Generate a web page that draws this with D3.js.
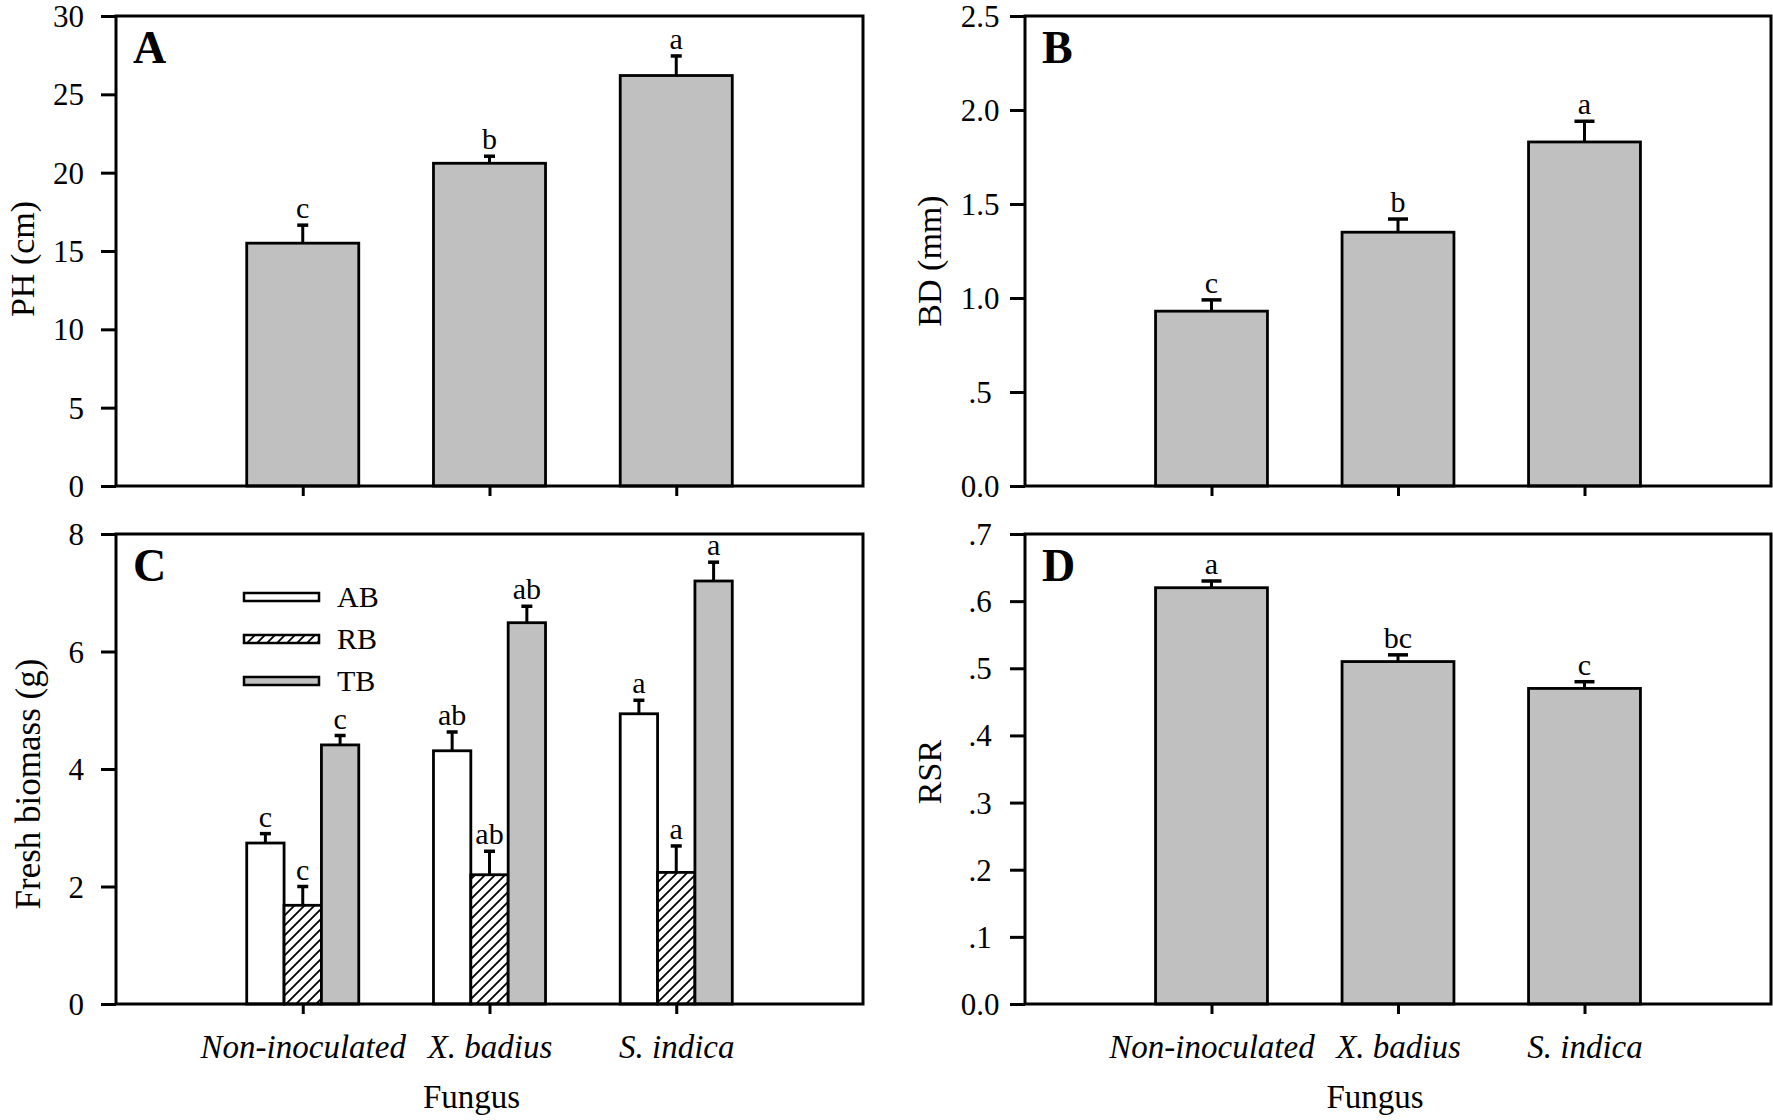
<!DOCTYPE html>
<html>
<head>
<meta charset="utf-8">
<script src="https://cdn.jsdelivr.net/npm/d3@7"></script>
<style>
  html, body { margin: 0; padding: 0; background: #fff; }
  svg { display: block; font-family: "Liberation Serif", "Times New Roman", serif; }
</style>
</head>
<body>
<svg id="chart" width="1773" height="1120"></svg>
<script>
// ---------- data ----------
const fungi = ["Non-inoculated", "X. badius", "S. indica"];

const phValues = [15.5, 20.6, 26.2];
const phErrors = [1.15, 0.45, 1.25];
const phLetters = ["c", "b", "a"];
const phTicks = [0, 5, 10, 15, 20, 25, 30];
const phTickLabels = ["0", "5", "10", "15", "20", "25", "30"];

const bdValues = [0.93, 1.35, 1.83];
const bdErrors = [0.06, 0.07, 0.11];
const bdLetters = ["c", "b", "a"];
const bdTicks = [0, 0.5, 1.0, 1.5, 2.0, 2.5];
const bdTickLabels = ["0.0", ".5", "1.0", "1.5", "2.0", "2.5"];

const biomassSeries = ["AB", "RB", "TB"];
const abValues = [2.74, 4.31, 4.94];
const abErrors = [0.16, 0.32, 0.23];
const abLetters = ["c", "ab", "a"];
const rbValues = [1.68, 2.20, 2.24];
const rbErrors = [0.32, 0.40, 0.45];
const rbLetters = ["c", "ab", "a"];
const tbValues = [4.41, 6.49, 7.20];
const tbErrors = [0.16, 0.28, 0.32];
const tbLetters = ["c", "ab", "a"];
const bmTicks = [0, 2, 4, 6, 8];
const bmTickLabels = ["0", "2", "4", "6", "8"];

const rsrValues = [0.62, 0.51, 0.47];
const rsrErrors = [0.01, 0.01, 0.01];
const rsrLetters = ["a", "bc", "c"];
const rsrTicks = [0, 0.1, 0.2, 0.3, 0.4, 0.5, 0.6, 0.7];
const rsrTickLabels = ["0.0", ".1", ".2", ".3", ".4", ".5", ".6", ".7"];

// ---------- drawing ----------
const svg = d3.select("#chart");
const GRAY = "#c0c0c0";

const defs = svg.append("defs");
const pat = defs.append("pattern")
  .attr("id", "hatch").attr("patternUnits", "userSpaceOnUse")
  .attr("width", 10).attr("height", 10);
pat.append("rect").attr("width", 10).attr("height", 10).attr("fill", "#fff");
pat.append("path")
  .attr("d", "M-2.5,2.5 l5,-5 M0,10 l10,-10 M7.5,12.5 l5,-5")
  .attr("stroke", "#000").attr("stroke-width", 1.8);

function panel(cfg) {
  const {x0, x1, y0, y1, max, ticks, tickLabels, centeredTicks, letter,
         yLabel, yLabelCenter, yLabelSize, yLabelBaseline, showX, fungusShift} = cfg;
  const g = svg.append("g");
  const y = d3.scaleLinear().domain([0, max]).range([y1, y0]);
  const x = d3.scalePoint().domain(fungi).range([x0, x1]).padding(1);

  cfg.draw(g, x, y);

  // frame
  g.append("rect").attr("x", x0).attr("y", y0).attr("width", x1 - x0).attr("height", y1 - y0)
    .attr("fill", "none").attr("stroke", "#000").attr("stroke-width", 3);

  // y axis
  const ya = g.append("g").attr("transform", `translate(${x0},0)`)
    .call(d3.axisLeft(y).tickValues(ticks).tickFormat((d, i) => tickLabels[i])
      .tickSizeInner(15).tickSizeOuter(0).tickPadding(17));
  ya.select(".domain").remove();
  ya.selectAll("line").attr("stroke", "#000").attr("stroke-width", 3);
  ya.selectAll("text").attr("font-size", 31).attr("font-family", "Liberation Serif")
    .attr("fill", "#000").attr("dy", "0.34em");
  if (centeredTicks) ya.selectAll("text").attr("text-anchor", "middle").attr("x", -45);

  // x axis
  const xa = g.append("g").attr("transform", `translate(0,${y1})`)
    .call(d3.axisBottom(x).tickSizeInner(10).tickSizeOuter(0).tickFormat(showX ? (d => d) : (() => "")));
  xa.select(".domain").remove();
  xa.selectAll("line").attr("stroke", "#000").attr("stroke-width", 3);
  xa.selectAll("text").attr("font-size", 33).attr("font-style", "italic")
    .attr("font-family", "Liberation Serif").attr("fill", "#000").attr("y", 54).attr("dy", 0);

  if (showX) {
    g.append("text").attr("x", (x0 + x1) / 2 + fungusShift).attr("y", 1108)
      .attr("text-anchor", "middle").attr("font-size", 33).text("Fungus");
  }

  // panel letter
  g.append("text").attr("x", x0 + 17).attr("y", y0 + 47)
    .attr("font-size", 46).attr("font-weight", "bold").text(letter);

  // y label
  g.append("text")
    .attr("transform", `translate(${yLabelBaseline},${yLabelCenter}) rotate(-90)`)
    .attr("text-anchor", "middle").attr("font-size", yLabelSize).text(yLabel);
  return {x, y};
}

function errBar(g, cx, yTop, yErr, capW, label) {
  g.append("line").attr("x1", cx).attr("x2", cx).attr("y1", yTop).attr("y2", yErr)
    .attr("stroke", "#000").attr("stroke-width", 3);
  g.append("line").attr("x1", cx - capW / 2).attr("x2", cx + capW / 2).attr("y1", yErr).attr("y2", yErr)
    .attr("stroke", "#000").attr("stroke-width", 3.5);
  g.append("text").attr("x", cx).attr("y", yErr - 7).attr("text-anchor", "middle")
    .attr("font-size", 30).text(label);
}

function simpleBars(values, errors, letters, capW) {
  return function (g, x, y) {
    const bw = x.step() * 0.6;
    fungi.forEach((f, i) => {
      const cx = x(f);
      g.append("rect").attr("x", cx - bw / 2).attr("y", y(values[i]))
        .attr("width", bw).attr("height", y(0) - y(values[i]))
        .attr("fill", GRAY).attr("stroke", "#000").attr("stroke-width", 2.8);
      errBar(g, cx, y(values[i]), y(values[i] + errors[i]), capW, letters[i]);
    });
  };
}

const fills = {AB: "#fff", RB: "url(#hatch)", TB: GRAY};
const seriesData = {
  AB: [abValues, abErrors, abLetters],
  RB: [rbValues, rbErrors, rbLetters],
  TB: [tbValues, tbErrors, tbLetters]
};

function groupedBars(g, x, y) {
  const gw = x.step() * 0.6;
  fungi.forEach((f, i) => {
    const sub = d3.scaleBand().domain(biomassSeries).range([x(f) - gw / 2, x(f) + gw / 2]);
    biomassSeries.forEach(s => {
      const [vals, errs, lets] = seriesData[s];
      g.append("rect").attr("x", sub(s)).attr("y", y(vals[i]))
        .attr("width", sub.bandwidth()).attr("height", y(0) - y(vals[i]))
        .attr("fill", fills[s]).attr("stroke", "#000").attr("stroke-width", 2.8);
      errBar(g, sub(s) + sub.bandwidth() / 2, y(vals[i]), y(vals[i] + errs[i]), 11, lets[i]);
    });
  });
  // legend
  const lx = 244, ly = 597;
  biomassSeries.forEach((s, k) => {
    const yy = ly + k * 42;
    g.append("rect").attr("x", lx).attr("y", yy - 4).attr("width", 75).attr("height", 8)
      .attr("fill", fills[s]).attr("stroke", "#000").attr("stroke-width", 2.5);
    g.append("text").attr("x", 337).attr("y", yy + 10).attr("font-size", 30).text(s);
  });
}

panel({x0: 116, x1: 863, y0: 16, y1: 486, max: 30, ticks: phTicks, tickLabels: phTickLabels,
  centeredTicks: false, letter: "A", yLabel: "PH (cm)", yLabelCenter: 259, yLabelSize: 34,
  yLabelBaseline: 34, showX: false, draw: simpleBars(phValues, phErrors, phLetters, 11)});

panel({x0: 1025, x1: 1771, y0: 16, y1: 486, max: 2.5, ticks: bdTicks, tickLabels: bdTickLabels,
  centeredTicks: true, letter: "B", yLabel: "BD (mm)", yLabelCenter: 261, yLabelSize: 34,
  yLabelBaseline: 941, showX: false, draw: simpleBars(bdValues, bdErrors, bdLetters, 20)});

panel({x0: 116, x1: 863, y0: 534, y1: 1004, max: 8, ticks: bmTicks, tickLabels: bmTickLabels,
  centeredTicks: false, letter: "C", yLabel: "Fresh biomass (g)", yLabelCenter: 784, yLabelSize: 35,
  yLabelBaseline: 40, showX: true, fungusShift: -18, draw: groupedBars});

panel({x0: 1025, x1: 1771, y0: 534, y1: 1004, max: 0.7, ticks: rsrTicks, tickLabels: rsrTickLabels,
  centeredTicks: true, letter: "D", yLabel: "RSR", yLabelCenter: 772, yLabelSize: 34,
  yLabelBaseline: 941, showX: true, fungusShift: -23, draw: simpleBars(rsrValues, rsrErrors, rsrLetters, 20)});
</script>
</body>
</html>
